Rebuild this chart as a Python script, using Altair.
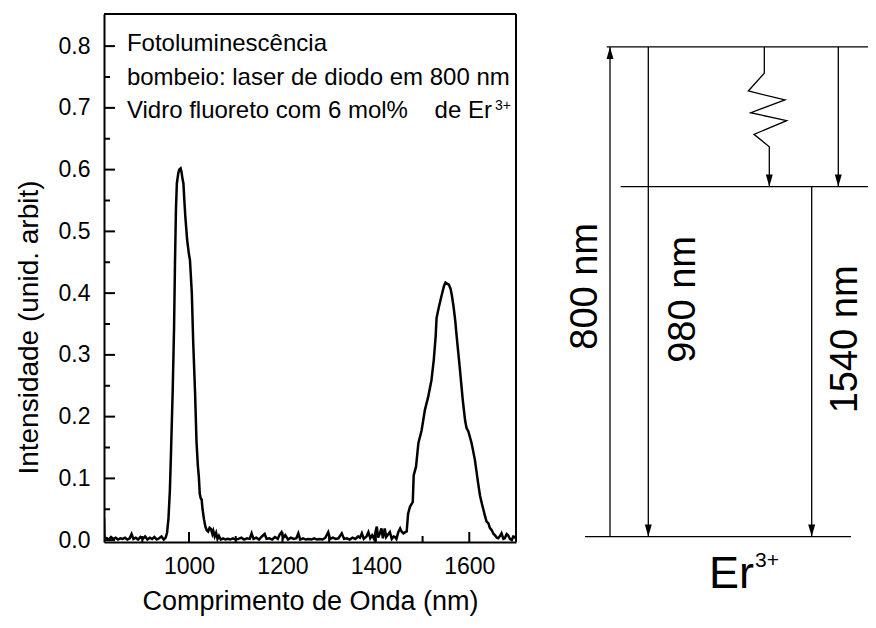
import altair as alt
import pandas as pd

FONT = "Liberation Sans"

# ---------------- spectrum data ----------------
wavelength = [818, 819, 824, 829, 833, 838, 843, 848, 853, 858, 863, 868, 873, 877, 881, 886, 891, 896,
              901, 906, 911, 916, 921, 926, 931, 936, 941, 946, 950, 953, 956, 959, 961, 963, 965, 968,
              970, 972, 974, 977, 979, 982, 984, 986, 988, 990, 992, 996, 1000, 1002, 1006, 1009, 1013,
              1016, 1019, 1021, 1023, 1025, 1027, 1029, 1032, 1035, 1038, 1041, 1044, 1047, 1050, 1052,
              1055, 1058, 1061, 1064, 1068, 1073, 1078, 1083, 1088, 1094, 1100, 1106, 1112, 1118, 1124,
              1130, 1134, 1138, 1144, 1150, 1156, 1162, 1166, 1172, 1178, 1184, 1190, 1194, 1198, 1202,
              1206, 1212, 1218, 1224, 1230, 1234, 1238, 1244, 1250, 1256, 1262, 1268, 1274, 1280, 1286,
              1292, 1298, 1302, 1308, 1314, 1320, 1327, 1332, 1338, 1344, 1350, 1356, 1362, 1366, 1370,
              1374, 1380, 1384, 1388, 1392, 1396, 1400, 1402, 1405, 1409, 1412, 1415, 1419, 1422, 1426,
              1430, 1434, 1438, 1441, 1444, 1448, 1452, 1455, 1459, 1463, 1466, 1469, 1473, 1477, 1479,
              1481, 1486, 1491, 1498, 1505, 1512, 1519, 1524, 1528, 1530, 1535, 1541, 1546, 1549, 1553,
              1556, 1560, 1563, 1566, 1570, 1573, 1580, 1586, 1591, 1594, 1598, 1605, 1612, 1619, 1623,
              1627, 1630, 1634, 1637, 1641, 1644, 1648, 1652, 1655, 1659, 1662, 1666, 1669, 1673, 1676,
              1680, 1683, 1687, 1691, 1694, 1698, 1700]
intensity = [0.035, 0.004, 0.003, 0.001, 0.005, 0.002, 0.004, 0.001, 0.003, 0.002, 0.004, 0.001, 0.003,
             0.010, 0.002, 0.004, 0.001, 0.005, 0.002, 0.006, 0.001, 0.004, 0.002, 0.005, 0.001, 0.003,
             0.006, 0.001, 0.004, 0.012, 0.035, 0.080, 0.130, 0.185, 0.240, 0.345, 0.450, 0.535, 0.578,
             0.594, 0.600, 0.602, 0.596, 0.585, 0.578, 0.550, 0.525, 0.486, 0.462, 0.454, 0.400, 0.320,
             0.238, 0.160, 0.120, 0.103, 0.075, 0.068, 0.066, 0.050, 0.034, 0.022, 0.016, 0.014, 0.020,
             0.018, 0.010, 0.015, 0.006, 0.012, 0.002, 0.007, 0.001, 0.003, 0.001, 0.002, 0.001, 0.003,
             0.001, 0.002, 0.004, 0.001, 0.003, 0.002, 0.011, 0.002, 0.004, 0.001, 0.006, 0.010, 0.002,
             0.003, 0.001, 0.005, 0.002, 0.009, 0.013, 0.004, 0.008, 0.001, 0.004, 0.002, 0.003, 0.011,
             0.001, 0.003, 0.001, 0.002, 0.001, 0.003, 0.001, 0.002, 0.001, 0.004, 0.013, 0.002, 0.004,
             0.002, 0.003, 0.011, 0.002, 0.003, 0.001, 0.004, 0.002, 0.006, 0.004, 0.011, 0.002, 0.006,
             0.013, 0.003, 0.008, 0.002, 0.016, 0.022, 0.004, 0.012, 0.019, 0.003, 0.019, 0.005, 0.009,
             0.013, 0.002, 0.006, 0.005, 0.002, 0.013, 0.019, 0.014, 0.011, 0.013, 0.014, 0.043, 0.054,
             0.059, 0.062, 0.105, 0.119, 0.157, 0.178, 0.211, 0.232, 0.259, 0.292, 0.330, 0.360, 0.378,
             0.397, 0.412, 0.417, 0.415, 0.414, 0.407, 0.395, 0.380, 0.355, 0.330, 0.276, 0.227, 0.194,
             0.182, 0.176, 0.157, 0.130, 0.092, 0.072, 0.059, 0.050, 0.038, 0.030, 0.027, 0.020, 0.016,
             0.010, 0.008, 0.004, 0.003, 0.007, 0.011, 0.002, 0.003, 0.010, 0.008, 0.002, 0.000, 0.006,
             0.005, 0.002]

x_domain = [818, 1700]
y_domain = [-0.003, 0.852]
y_major = [0.0, 0.1, 0.2, 0.3, 0.4, 0.5, 0.6, 0.7, 0.8]
y_minor = [0.05, 0.15, 0.25, 0.35, 0.45, 0.55, 0.65, 0.75]
x_major = [1000, 1200, 1400, 1600]
x_minor = [900, 1100, 1300, 1500]

annot_text = ["Fotoluminescência", "bombeio: laser de diodo em 800 nm",
              "Vidro fluoreto com 6 mol%\u00a0\u00a0\u00a0\u00a0de Er"]
annot_x = [867, 867, 867]
annot_y = [0.7914, 0.7374, 0.6835]
annot_sup_text = ["3+"]
annot_sup_x = [1655]
annot_sup_y = [0.697]

# ---------------- energy level diagram (diagram units) ----------------
level_names = ["topo", "meio", "base"]
level_energy = [1.0, 0.7147, 0.0]
level_x_start = [30.7, 44.7, 9.0]
level_x_end = [296.0, 300.0, 275.0]

arrow_x = [34.0, 72.3, 262.3, 235.7]
arrow_from = [0.0, 1.0, 1.0, 0.7147]
arrow_to = [1.0, 0.0, 0.7147, 0.0]

wave_x = [188.3, 188.3, 172.3, 209.0, 174.7, 210.7, 178.0, 193.3, 193.3]
wave_y = [1.0, 0.9461, 0.9100, 0.8918, 0.8656, 0.8493, 0.8215, 0.7962, 0.7147]

label_text = ["800 nm", "980 nm", "1540 nm"]
label_x = [21.3, 119.0, 280.7]
label_y = [0.511, 0.4844, 0.4027]

ion_text = ["Er"]
ion_x = [133.0]
ion_y = [-0.1048]
ion_sup_text = ["3+"]
ion_sup_x = [179.0]
ion_sup_y = [-0.0615]

# ---------------- layout ----------------
PW = 412          # spectrum plot width
H = 528           # plot height
VW = 764          # whole drawing width (spectrum + diagram)
DX0 = 472         # diagram origin, relative to plot left
DW = 300          # diagram units span (1 unit = 1 px)

xscale = alt.Scale(domain=x_domain, range=[0, PW], nice=False, zero=False)
yscale = alt.Scale(domain=y_domain, nice=False, zero=False)

xaxis = alt.Axis(values=x_major, format="d", ticks=False, tickSize=0, domain=True, domainColor="black",
                 domainWidth=2, grid=False,
                 labelFont=FONT, labelFontSize=23, labelColor="black", labelPadding=13, labelFlush=False,
                 titleFont=FONT, titleFontSize=27, titleFontWeight="normal", titleColor="black",
                 titleBaseline="alphabetic", titleY=67)
yaxis = alt.Axis(values=y_major, format=".1f", ticks=False, tickSize=0, domain=True, domainColor="black",
                 domainWidth=2, grid=False,
                 labelFont=FONT, labelFontSize=23, labelColor="black", labelPadding=14, labelFlush=False,
                 titleFont=FONT, titleFontSize=28, titleFontWeight="normal", titleColor="black",
                 titlePadding=15, titleY=313)
XT = "Comprimento de Onda (nm)"
YT = "Intensidade (unid. arbit)"


def X(f):
    return alt.X(f, type="quantitative", scale=xscale, axis=xaxis, title=XT)


def Y(f):
    return alt.Y(f, type="quantitative", scale=yscale, axis=yaxis, title=YT)


spec_df = pd.DataFrame({"wl": wavelength, "I": intensity})
line = alt.Chart(spec_df).mark_line(color="black", strokeWidth=2.5, clip=True).encode(
    x=X("wl"), y=Y("I"))

frame_top = alt.Chart(pd.DataFrame({"wl": [x_domain[0]], "wl2": [x_domain[1]]})).mark_rule(
    color="black", strokeWidth=2).encode(x=X("wl"), x2="wl2", y=alt.value(0))
frame_right = alt.Chart(pd.DataFrame({"wl": [x_domain[1]]})).mark_rule(
    color="black", strokeWidth=2).encode(x=X("wl"), y=alt.value(0), y2=alt.value(H))

ymaj = alt.Chart(pd.DataFrame({"I": y_major})).mark_rule(color="black", strokeWidth=2).encode(
    y=Y("I"), x=alt.value(0), x2=alt.value(11))
ymin = alt.Chart(pd.DataFrame({"I": y_minor})).mark_rule(color="black", strokeWidth=2).encode(
    y=Y("I"), x=alt.value(0), x2=alt.value(6))
xmaj = alt.Chart(pd.DataFrame({"wl": x_major})).mark_rule(color="black", strokeWidth=2).encode(
    x=X("wl"), y=alt.value(H), y2=alt.value(H - 10))
xmin = alt.Chart(pd.DataFrame({"wl": x_minor})).mark_rule(color="black", strokeWidth=2).encode(
    x=X("wl"), y=alt.value(H), y2=alt.value(H - 6))

ann = alt.Chart(pd.DataFrame({"wl": annot_x, "I": annot_y, "t": annot_text})).mark_text(
    align="left", baseline="alphabetic", font=FONT, fontSize=24, color="black").encode(
    x=X("wl"), y=Y("I"), text="t:N")
ann_sup = alt.Chart(pd.DataFrame({"wl": annot_sup_x, "I": annot_sup_y, "t": annot_sup_text})).mark_text(
    align="left", baseline="alphabetic", font=FONT, fontSize=14, color="black").encode(
    x=X("wl"), y=Y("I"), text="t:N")

spectrum = alt.layer(line, frame_top, frame_right, ymaj, ymin, xmaj, xmin, ann, ann_sup)

# ---------------- diagram ----------------
uscale = alt.Scale(domain=[0, DW], range=[DX0, DX0 + DW], nice=False, zero=False)
vscale = alt.Scale(domain=[-0.011, 1.0672], nice=False, zero=False)


def U(f):
    return alt.X(f, type="quantitative", scale=uscale, axis=None)


def V(f):
    return alt.Y(f, type="quantitative", scale=vscale, axis=None)


LW = 1.3
levels = alt.Chart(pd.DataFrame({"n": level_names, "v": level_energy, "u": level_x_start,
                                 "u2": level_x_end})).mark_rule(color="black", strokeWidth=LW).encode(
    x=U("u"), x2="u2", y=V("v"))

arrows_df = pd.DataFrame({"u": arrow_x, "v": arrow_from, "v2": arrow_to})
arrows = alt.Chart(arrows_df).mark_rule(color="black", strokeWidth=LW).encode(
    x=U("u"), y=V("v"), y2="v2")

head_up_df = pd.DataFrame({"u": [a for a, f, t in zip(arrow_x, arrow_from, arrow_to) if t > f],
                           "v": [t for a, f, t in zip(arrow_x, arrow_from, arrow_to) if t > f]})
head_dn_df = pd.DataFrame({"u": [a for a, f, t in zip(arrow_x, arrow_from, arrow_to) if t < f] + [wave_x[-1]],
                           "v": [t for a, f, t in zip(arrow_x, arrow_from, arrow_to) if t < f] + [wave_y[-1]]})
head_up = alt.Chart(head_up_df).mark_point(shape="M0,0L-0.29,1L0.29,1Z", size=576, filled=True,
                                           color="black", opacity=1, strokeWidth=0).encode(
    x=U("u"), y=V("v"))
head_dn = alt.Chart(head_dn_df).mark_point(shape="M0,0L-0.29,-1L0.29,-1Z", size=576, filled=True,
                                           color="black", opacity=1, strokeWidth=0).encode(
    x=U("u"), y=V("v"))

wave = alt.Chart(pd.DataFrame({"u": wave_x, "v": wave_y, "o": list(range(len(wave_x)))})).mark_line(
    color="black", strokeWidth=LW).encode(x=U("u"), y=V("v"), order="o:Q")

labels = alt.Chart(pd.DataFrame({"u": label_x, "v": label_y, "t": label_text})).mark_text(
    angle=270, align="center", baseline="alphabetic", font=FONT, fontSize=38, color="black").encode(
    x=U("u"), y=V("v"), text="t:N")

ion = alt.Chart(pd.DataFrame({"u": ion_x, "v": ion_y, "t": ion_text})).mark_text(
    align="left", baseline="alphabetic", font=FONT, fontSize=45, color="black").encode(
    x=U("u"), y=V("v"), text="t:N")
ion_sup = alt.Chart(pd.DataFrame({"u": ion_sup_x, "v": ion_sup_y, "t": ion_sup_text})).mark_text(
    align="left", baseline="alphabetic", font=FONT, fontSize=21, color="black").encode(
    x=U("u"), y=V("v"), text="t:N")

diagram = alt.layer(levels, arrows, wave, head_up, head_dn, labels, ion, ion_sup)

chart = alt.layer(spectrum, diagram).resolve_scale(x="independent", y="independent").properties(
    width=VW, height=H,
    autosize=alt.AutoSizeParams(type="none"),
    padding={"left": 96, "top": 6, "right": 0, "bottom": 74},
    background="white",
).configure(font=FONT, view=alt.ViewConfig(stroke="transparent", strokeWidth=0))

chart.save("out.html", embed_options={"renderer": "svg", "actions": False})
